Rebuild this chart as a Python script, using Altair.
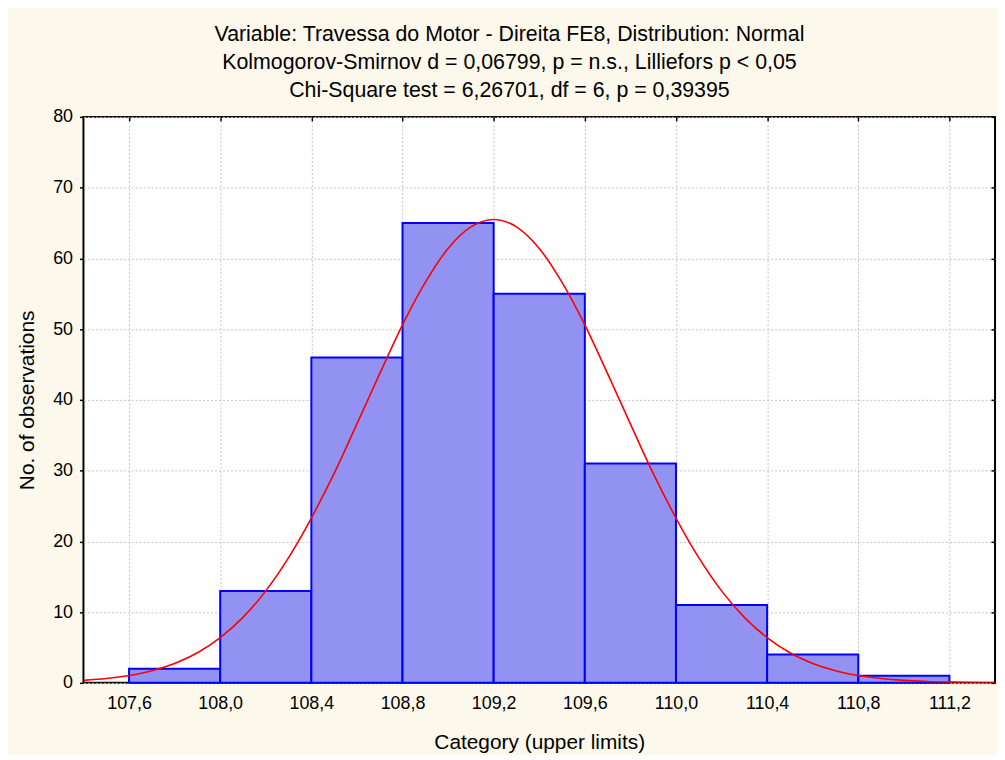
import altair as alt
import pandas as pd

# Histogram bins (lower / upper limits) and counts
bin_lower = [107.6, 108.0, 108.4, 108.8, 109.2, 109.6, 110.0, 110.4, 110.8]
bin_upper = [108.0, 108.4, 108.8, 109.2, 109.6, 110.0, 110.4, 110.8, 111.2]
counts = [2, 13, 46, 65, 55, 31, 11, 4, 1]

# Fitted normal curve
curve_x = [107.4, 107.5, 107.6, 107.7, 107.8, 107.9, 108.0, 108.1, 108.2, 108.3,
           108.4, 108.5, 108.6, 108.7, 108.8, 108.9, 109.0, 109.1, 109.2, 109.3,
           109.4, 109.5, 109.6, 109.7, 109.8, 109.9, 110.0, 110.1, 110.2, 110.3,
           110.4, 110.5, 110.6, 110.7, 110.8, 110.9, 111.0, 111.1, 111.2, 111.3, 111.4]
curve_y = [0.35, 0.61, 1.04, 1.72, 2.75, 4.25, 6.4, 9.25, 13.0, 17.7,
           23.3, 29.6, 36.6, 43.7, 50.6, 56.6, 61.4, 64.45, 65.5, 64.45,
           61.4, 56.6, 50.6, 43.7, 36.6, 29.6, 23.3, 17.7, 13.0, 9.25,
           6.4, 4.25, 2.75, 1.72, 1.04, 0.61, 0.35, 0.19, 0.10, 0.05, 0.02]

x_ticks = [107.6, 108.0, 108.4, 108.8, 109.2, 109.6, 110.0, 110.4, 110.8, 111.2]
y_ticks = [0, 10, 20, 30, 40, 50, 60, 70, 80]

title_lines = [
    "Variable: Travessa do Motor - Direita FE8, Distribution: Normal",
    "Kolmogorov-Smirnov d = 0,06799, p = n.s., Lilliefors p < 0,05",
    "Chi-Square test = 6,26701, df = 6, p = 0,39395",
]

bars_df = pd.DataFrame({"lo": bin_lower, "hi": bin_upper, "n": counts, "zero": [0] * len(counts)})
curve_df = pd.DataFrame({"x": curve_x, "y": curve_y})

FONT = "Liberation Sans"
xscale = alt.Scale(domain=[107.4, 111.4], nice=False, zero=False)
yscale = alt.Scale(domain=[0, 80], nice=False)

x_bottom = alt.Axis(
    orient="bottom", values=x_ticks, title="Category (upper limits)",
    labelExpr="replace(format(datum.value, '.1f'), '.', ',')",
    labelFontSize=18, labelFont=FONT, labelColor="black", labelPadding=12,
    ticks=False, domain=False, grid=True, gridColor="#c4c4c4", gridDash=[2, 2],
    titleFontSize=21, titleFont=FONT, titleFontWeight="normal", titleColor="black",
    titlePadding=19,
)
y_left = alt.Axis(
    orient="left", values=y_ticks, title="No. of observations",
    labelFontSize=18, labelFont=FONT, labelColor="black", labelPadding=7,
    ticks=True, tickSize=4, tickColor="black", tickWidth=1.5,
    domain=False, grid=True, gridColor="#c4c4c4", gridDash=[2, 2],
    titleFontSize=21, titleFont=FONT, titleFontWeight="normal", titleColor="black",
    titlePadding=15,
)
x_top = alt.Axis(
    orient="top", values=x_ticks, title=None, labels=False, domain=False, grid=False,
    ticks=True, tickSize=4, tickColor="black", tickWidth=1.5, offset=-4,
)
y_right = alt.Axis(
    orient="right", values=y_ticks, title=None, labels=False, domain=False, grid=False,
    ticks=True, tickSize=4, tickColor="black", tickWidth=1.5, offset=-4,
)

bars = alt.Chart(bars_df).mark_rect(
    fill="#9292f2", stroke="#0000ff", strokeWidth=2
).encode(
    x=alt.X("lo:Q", scale=xscale, axis=x_bottom),
    x2="hi:Q",
    y=alt.Y("n:Q", scale=yscale, axis=y_left),
    y2="zero:Q",
)

curve = alt.Chart(curve_df).mark_line(
    color="#ff0000", strokeWidth=1.6, interpolate="monotone", clip=True
).encode(
    x=alt.X("x:Q", scale=xscale, axis=x_top),
    y=alt.Y("y:Q", scale=yscale, axis=y_right),
)

chart = alt.layer(bars, curve).resolve_axis(
    x="independent", y="independent"
).properties(
    width=918,
    height=570,
    autosize=alt.AutoSizeParams(type="none"),
    padding={"left": 76, "top": 107, "right": 2, "bottom": 70},
    background="#fdf8ec",
    title=alt.TitleParams(
        text=title_lines, fontSize=21.5, font=FONT, fontWeight="normal", color="black",
        lineHeight=28, anchor="middle", baseline="bottom", offset=17, dx=-30, dy=32,
    ),
).configure_view(
    fill="white", stroke="black", strokeWidth=2
)

chart.save("out.html", embed_options={"renderer": "svg", "actions": False})
